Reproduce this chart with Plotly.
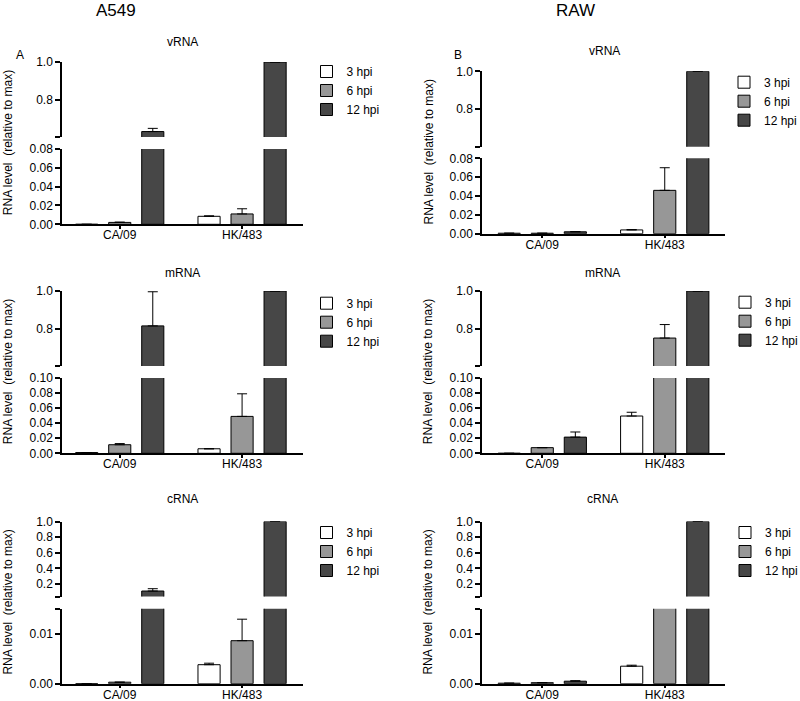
import plotly.graph_objects as go

# ---------------- data ----------------
categories = ["CA/09", "HK/483"]
series = ["3 hpi", "6 hpi", "12 hpi"]

# values [series][category]
a549_vrna = [[0.0, 0.0085], [0.002, 0.011], [0.629, 1.0]]
a549_vrna_err = [[0.0, 0.0005], [0.0003, 0.0055], [0.017, 0.0]]
raw_vrna = [[0.0005, 0.004], [0.0005, 0.046], [0.002, 1.0]]
raw_vrna_err = [[0.0, 0.0004], [0.0, 0.024], [0.0003, 0.0]]

a549_mrna = [[0.001, 0.006], [0.0114, 0.049], [0.814, 1.0]]
a549_mrna_err = [[0.0, 0.0], [0.0015, 0.030], [0.182, 0.0]]
raw_mrna = [[0.0, 0.0495], [0.0075, 0.749], [0.0215, 1.0]]
raw_mrna_err = [[0.0, 0.005], [0.0, 0.072], [0.0068, 0.0]]

a549_crna = [[0.0, 0.0038], [0.0003, 0.0086], [0.11, 1.0]]
a549_crna_err = [[0.0, 0.0003], [0.0, 0.0043], [0.03, 0.0]]
raw_crna = [[0.0001, 0.0035], [0.0002, 0.025], [0.0005, 1.0]]
raw_crna_err = [[0.0, 0.0002], [0.0, 0.0], [0.0001, 0.0]]

# y-axis tick labels
vrna_upper_ticks = [0.6, 0.8, 1.0]
vrna_upper_text = ["", "0.8", "1.0"]
vrna_lower_ticks = [0.0, 0.02, 0.04, 0.06, 0.08]
vrna_lower_text = ["0.00", "0.02", "0.04", "0.06", "0.08"]
mrna_upper_ticks = [0.6, 0.8, 1.0]
mrna_upper_text = ["", "0.8", "1.0"]
mrna_lower_ticks = [0.0, 0.02, 0.04, 0.06, 0.08, 0.10]
mrna_lower_text = ["0.00", "0.02", "0.04", "0.06", "0.08", "0.10"]
crna_upper_ticks = [0.04, 0.2, 0.4, 0.6, 0.8, 1.0]
crna_upper_text = ["", "0.2", "0.4", "0.6", "0.8", "1.0"]
crna_lower_ticks = [0.0, 0.01, 0.015]
crna_lower_text = ["0.00", "0.01", ""]

colors = ["#ffffff", "#979797", "#474747"]
FONT = "Liberation Sans, Arial, sans-serif"
W, H = 800, 701


def fx(p):
    return p / W


def fy(p):
    return 1 - p / H


panels = [
    dict(title="vRNA", vals=a549_vrna, errs=a549_vrna_err, ur=[0.6, 1.0], lr=[0.0, 0.08],
         ut=(vrna_upper_ticks, vrna_upper_text), lt=(vrna_lower_ticks, vrna_lower_text),
         xd=(62, 303), xr=[-0.472, 1.498], up=(62, 137), lo=(149, 224.3),
         tpos=(182, 42), leg=(306.5, 71)),
    dict(title="vRNA", vals=raw_vrna, errs=raw_vrna_err, ur=[0.6, 1.0], lr=[0.0, 0.08],
         ut=(vrna_upper_ticks, vrna_upper_text), lt=(vrna_lower_ticks, vrna_lower_text),
         xd=(482, 725), xr=[-0.492, 1.492], up=(71.3, 146.7), lo=(158.3, 233.7),
         tpos=(604, 51), leg=(724, 81.7)),
    dict(title="mRNA", vals=a549_mrna, errs=a549_mrna_err, ur=[0.6, 1.0], lr=[0.0, 0.10],
         ut=(mrna_upper_ticks, mrna_upper_text), lt=(mrna_lower_ticks, mrna_lower_text),
         xd=(62, 303), xr=[-0.472, 1.498], up=(291, 366), lo=(378, 453.3),
         tpos=(182, 273), leg=(306.5, 302.7)),
    dict(title="mRNA", vals=raw_mrna, errs=raw_mrna_err, ur=[0.6, 1.0], lr=[0.0, 0.10],
         ut=(mrna_upper_ticks, mrna_upper_text), lt=(mrna_lower_ticks, mrna_lower_text),
         xd=(482, 725), xr=[-0.492, 1.492], up=(291, 366), lo=(378, 453.3),
         tpos=(602, 273), leg=(725, 301.7)),
    dict(title="cRNA", vals=a549_crna, errs=a549_crna_err, ur=[0.04, 1.0], lr=[0.0, 0.015],
         ut=(crna_upper_ticks, crna_upper_text), lt=(crna_lower_ticks, crna_lower_text),
         xd=(62, 303), xr=[-0.472, 1.498], up=(521.5, 596.5), lo=(608.7, 683.7),
         tpos=(182, 499), leg=(306.5, 532)),
    dict(title="cRNA", vals=raw_crna, errs=raw_crna_err, ur=[0.04, 1.0], lr=[0.0, 0.015],
         ut=(crna_upper_ticks, crna_upper_text), lt=(crna_lower_ticks, crna_lower_text),
         xd=(482, 725), xr=[-0.492, 1.492], up=(521.5, 596.5), lo=(608.7, 683.7),
         tpos=(602, 499), leg=(725, 532)),
]

fig = go.Figure()
layout = dict(
    width=W, height=H, margin=dict(l=0, r=0, t=0, b=0, autoexpand=False),
    paper_bgcolor="white", plot_bgcolor="white",
    barmode="group", bargap=0.19, bargroupgap=0.33,
    font=dict(family=FONT, size=12, color="black"),
    annotations=[],
)

tickfont = dict(family=FONT, size=12, color="black")

for i, p in enumerate(panels):
    nu, nl = 2 * i + 1, 2 * i + 2
    legname = "legend" if i == 0 else f"legend{i + 1}"
    for half, n in (("u", nu), ("l", nl)):
        for s in range(3):
            fig.add_trace(go.Bar(
                x=categories, y=p["vals"][s], name=series[s],
                marker=dict(color=colors[s], line=dict(color="black", width=1)),
                error_y=dict(type="data", symmetric=False, array=p["errs"][s],
                             arrayminus=[0, 0], color="black", thickness=1, width=5),
                xaxis=f"x{n}", yaxis=f"y{n}", legend=legname,
                showlegend=(half == "u"), hoverinfo="skip",
            ))
    xdom = [fx(p["xd"][0]), fx(p["xd"][1])]
    layout[f"xaxis{nu}"] = dict(domain=xdom, range=p["xr"], anchor=f"y{nu}",
                                showline=False, showticklabels=False, ticks="",
                                showgrid=False, zeroline=False, type="category")
    layout[f"xaxis{nl}"] = dict(domain=xdom, range=p["xr"], anchor=f"y{nl}",
                                showline=True, linecolor="black", linewidth=1.5,
                                ticks="outside", ticklen=3, tickwidth=1.5,
                                tickcolor="black", ticklabelstandoff=-4,
                                showgrid=False, zeroline=False, type="category",
                                tickfont=tickfont)
    eps_u = (p["ur"][1] - p["ur"][0]) * 1e-6
    eps_l = (p["lr"][1] - p["lr"][0]) * 1e-6
    layout[f"yaxis{nu}"] = dict(domain=[fy(p["up"][1]), fy(p["up"][0])],
                                range=[p["ur"][0] - eps_u, p["ur"][1] + eps_u],
                                anchor=f"x{nu}", showline=True, linecolor="black", linewidth=1.5,
                                ticks="outside", ticklen=5, tickwidth=1.5, tickcolor="black",
                                tickvals=p["ut"][0], ticktext=p["ut"][1],
                                showgrid=False, zeroline=False, tickfont=tickfont)
    layout[f"yaxis{nl}"] = dict(domain=[fy(p["lo"][1]), fy(p["lo"][0])],
                                range=[p["lr"][0] - eps_l, p["lr"][1] + eps_l],
                                anchor=f"x{nl}", showline=True, linecolor="black", linewidth=1.5,
                                ticks="outside", ticklen=5, tickwidth=1.5, tickcolor="black",
                                tickvals=p["lt"][0], ticktext=p["lt"][1],
                                showgrid=False, zeroline=False, tickfont=tickfont)
    layout[legname] = dict(x=fx(p["leg"][0]), y=fy(p["leg"][1] - 14),
                           xanchor="left", yanchor="top", bgcolor="rgba(0,0,0,0)",
                           font=dict(family=FONT, size=12, color="black"),
                           traceorder="normal", itemclick=False, itemdoubleclick=False)
    layout["annotations"].append(dict(
        text=p["title"], x=fx(p["tpos"][0]), y=fy(p["tpos"][1]), xref="paper", yref="paper",
        showarrow=False, xanchor="center", yanchor="middle", font=dict(size=12)))
    ymid = (p["up"][0] + p["lo"][1]) / 2
    ytx = 8 if p["xd"][0] < 400 else 428
    layout["annotations"].append(dict(
        text="RNA level  (relative to max)", x=fx(ytx), y=fy(ymid), xref="paper", yref="paper",
        showarrow=False, textangle=-90, xanchor="center", yanchor="middle", font=dict(size=12)))

layout["annotations"] += [
    dict(text="A", x=fx(20), y=fy(55), xref="paper", yref="paper", showarrow=False,
         xanchor="center", yanchor="middle", font=dict(size=12)),
    dict(text="B", x=fx(458), y=fy(55), xref="paper", yref="paper", showarrow=False,
         xanchor="center", yanchor="middle", font=dict(size=12)),
    dict(text="A549", x=fx(116), y=fy(11), xref="paper", yref="paper", showarrow=False,
         xanchor="center", yanchor="middle", font=dict(size=17)),
    dict(text="RAW", x=fx(575), y=fy(11), xref="paper", yref="paper", showarrow=False,
         xanchor="center", yanchor="middle", font=dict(size=17)),
]

fig.update_layout(**layout)
fig.write_html("out.html", config={"displayModeBar": False},
               post_script="document.body.style.margin='0px';document.body.style.padding='0px';")
